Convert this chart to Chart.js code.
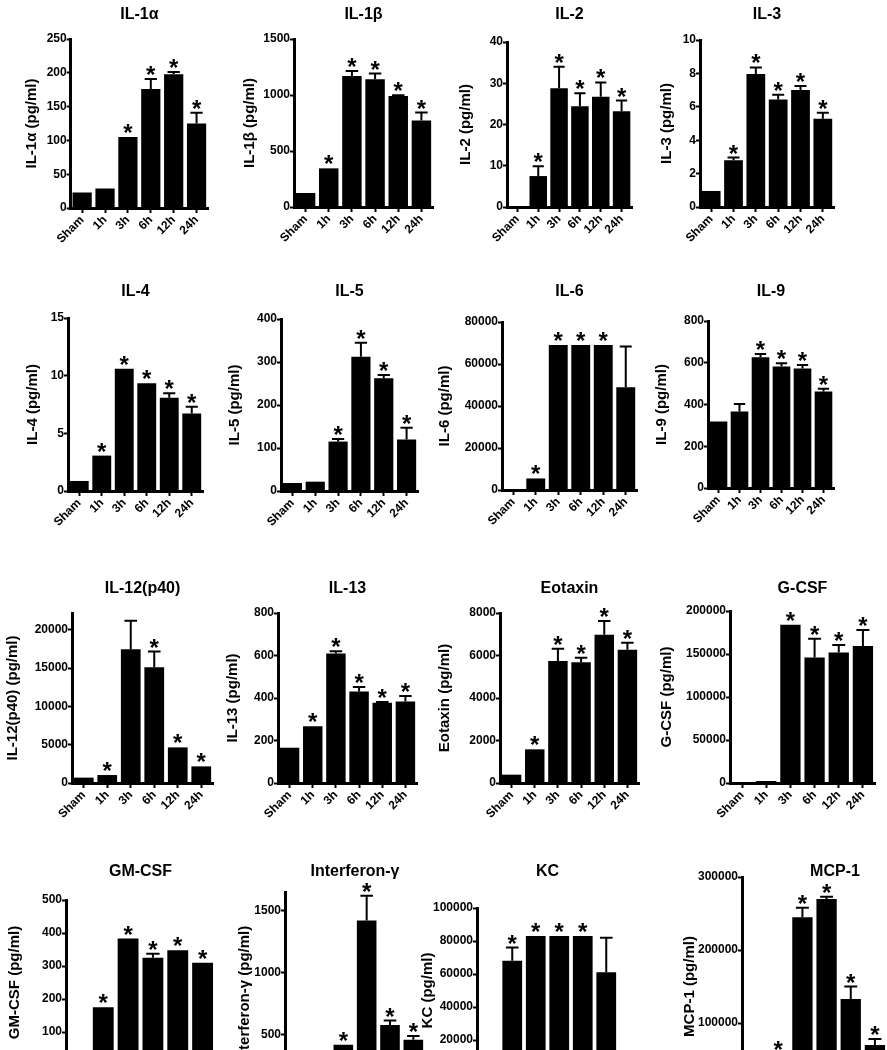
<!DOCTYPE html>
<html><head><meta charset="utf-8">
<script src="https://cdn.jsdelivr.net/npm/chart.js@4.4.0/dist/chart.umd.min.js"></script>
<style>
html,body{margin:0;padding:0;background:#fff;width:887px;height:1050px;overflow:hidden;position:relative}
canvas{position:absolute}
</style></head><body>
<script>
// ---------- DATA ----------
const categories = ['Sham','1h','3h','6h','12h','24h'];

const il1aValues = [23, 29, 105, 176, 198, 125];
const il1aSem    = [0, 0, 0, 15, 3, 16];
const il1aStars  = [0, 0, 1, 1, 1, 1];
const il1aTicks  = [0, 50, 100, 150, 200, 250];

const il1bValues = [125, 345, 1170, 1140, 992, 772];
const il1bSem    = [0, 0, 45, 51, 6, 71];
const il1bStars  = [0, 1, 1, 1, 1, 1];
const il1bTicks  = [0, 500, 1000, 1500];

const il2Values = [0, 7.5, 28.8, 24.4, 26.7, 23.2];
const il2Sem    = [0, 2.4, 5.2, 3.2, 3.5, 2.6];
const il2Stars  = [0, 1, 1, 1, 1, 1];
const il2Ticks  = [0, 10, 20, 30, 40];

const il3Values = [0.96, 2.8, 7.96, 6.44, 7.0, 5.28];
const il3Sem    = [0, 0.16, 0.4, 0.28, 0.24, 0.36];
const il3Stars  = [0, 1, 1, 1, 1, 1];
const il3Ticks  = [0, 2, 4, 6, 8, 10];

const il4Values = [0.87, 3.07, 10.59, 9.34, 8.09, 6.73];
const il4Sem    = [0, 0, 0, 0, 0.38, 0.58];
const il4Stars  = [0, 1, 1, 1, 1, 1];
const il4Ticks  = [0, 5, 10, 15];

const il5Values = [18.6, 21.7, 115, 312, 262, 120];
const il5Sem    = [0, 0, 6, 33, 8, 27];
const il5Stars  = [0, 0, 1, 1, 1, 1];
const il5Ticks  = [0, 100, 200, 300, 400];

const il6Values = [0, 5500, 69000, 69000, 69000, 48900];
const il6Sem    = [0, 0, 0, 0, 0, 19400];
const il6Stars  = [0, 1, 1, 1, 1, 0];
const il6Ticks  = [0, 20000, 40000, 60000, 80000];

const il9Values = [319, 367, 626, 582, 573, 462];
const il9Sem    = [0, 35, 16, 16, 16, 13];
const il9Stars  = [0, 0, 1, 1, 1, 1];
const il9Ticks  = [0, 200, 400, 600, 800];

const il12Values = [700, 1040, 17480, 15130, 4650, 2170];
const il12Sem    = [0, 0, 3720, 2040, 0, 0];
const il12Stars  = [0, 1, 0, 1, 1, 1];
const il12Ticks  = [0, 5000, 10000, 15000, 20000];

const il13Values = [166, 267, 609, 431, 378, 383];
const il13Sem    = [0, 0, 11, 21, 3, 27];
const il13Stars  = [0, 1, 1, 1, 1, 1];
const il13Ticks  = [0, 200, 400, 600, 800];

const eotaxinValues = [392, 1584, 5741, 5678, 6980, 6275];
const eotaxinSem    = [0, 0, 581, 220, 644, 329];
const eotaxinStars  = [0, 1, 1, 1, 1, 1];
const eotaxinTicks  = [0, 2000, 4000, 6000, 8000];

const gcsfValues = [500, 2300, 184000, 146000, 151800, 159200];
const gcsfSem    = [0, 0, 0, 21700, 8600, 18700];
const gcsfStars  = [0, 0, 1, 1, 1, 1];
const gcsfTicks  = [0, 50000, 100000, 150000, 200000];

const gmcsfValues = [40, 175, 383, 325, 348, 310];
const gmcsfSem    = [0, 0, 0, 12, 0, 0];
const gmcsfStars  = [0, 1, 1, 1, 1, 1];
const gmcsfTicks  = [0, 100, 200, 300, 400, 500];

const ifngValues = [150, 200, 420, 1420, 580, 460];
const ifngSem    = [0, 0, 0, 200, 35, 30];
const ifngStars  = [0, 0, 1, 1, 1, 1];
const ifngTicks  = [0, 500, 1000, 1500];

const kcValues = [5000, 68000, 83000, 83000, 83000, 61000];
const kcSem    = [0, 8000, 0, 0, 0, 21000];
const kcStars  = [0, 1, 1, 1, 1, 0];
const kcTicks  = [0, 20000, 40000, 60000, 80000, 100000];

const mcp1Values = [2000, 58000, 245000, 270000, 133000, 70000];
const mcp1Sem    = [0, 0, 13000, 3000, 17000, 8000];
const mcp1Stars  = [0, 1, 1, 1, 1, 1];
const mcp1Ticks  = [0, 100000, 200000, 300000];

// ---------- PANELS (data refs + layout) ----------
const panels = [
  {title:'IL-1\u03b1', yTitle:'IL-1\u03b1 (pg/ml)', v:il1aValues, e:il1aSem, s:il1aStars, t:il1aTicks, max:250,
   ax:70.7, top:39, zero:208, right:208, titleY:15, yTitleX:32},
  {title:'IL-1\u03b2', yTitle:'IL-1\u03b2 (pg/ml)', v:il1bValues, e:il1bSem, s:il1bStars, t:il1bTicks, max:1500,
   ax:294, top:39, zero:207, right:433, titleY:15, yTitleX:250},
  {title:'IL-2', yTitle:'IL-2 (pg/ml)', v:il2Values, e:il2Sem, s:il2Stars, t:il2Ticks, max:40,
   ax:507, top:42, zero:207, right:632, titleY:15, yTitleX:466},
  {title:'IL-3', yTitle:'IL-3 (pg/ml)', v:il3Values, e:il3Sem, s:il3Stars, t:il3Ticks, max:10,
   ax:700, top:40, zero:207, right:834, titleY:15, yTitleX:667},
  {title:'IL-4', yTitle:'IL-4 (pg/ml)', v:il4Values, e:il4Sem, s:il4Stars, t:il4Ticks, max:15,
   ax:68, top:318, zero:491, right:203, titleY:292, yTitleX:33},
  {title:'IL-5', yTitle:'IL-5 (pg/ml)', v:il5Values, e:il5Sem, s:il5Stars, t:il5Ticks, max:400,
   ax:281, top:319, zero:491, right:418, titleY:292, yTitleX:235},
  {title:'IL-6', yTitle:'IL-6 (pg/ml)', v:il6Values, e:il6Sem, s:il6Stars, t:il6Ticks, max:80000,
   ax:502, top:322, zero:490, right:637, titleY:292, yTitleX:445},
  {title:'IL-9', yTitle:'IL-9 (pg/ml)', v:il9Values, e:il9Sem, s:il9Stars, t:il9Ticks, max:800,
   ax:708, top:321, zero:488, right:834, titleY:292, yTitleX:662},
  {title:'IL-12(p40)', yTitle:'IL-12(p40) (pg/ml)', v:il12Values, e:il12Sem, s:il12Stars, t:il12Ticks, max:22200,
   ax:72, top:613, zero:783, right:213, titleY:589, yTitleX:13},
  {title:'IL-13', yTitle:'IL-13 (pg/ml)', v:il13Values, e:il13Sem, s:il13Stars, t:il13Ticks, max:800,
   ax:278, top:613, zero:783, right:417, titleY:589, yTitleX:233},
  {title:'Eotaxin', yTitle:'Eotaxin (pg/ml)', v:eotaxinValues, e:eotaxinSem, s:eotaxinStars, t:eotaxinTicks, max:8000,
   ax:500, top:613, zero:783, right:639, titleY:589, yTitleX:445},
  {title:'G-CSF', yTitle:'G-CSF (pg/ml)', v:gcsfValues, e:gcsfSem, s:gcsfStars, t:gcsfTicks, max:200000,
   ax:730, top:611, zero:783, right:875, titleY:589, yTitleX:667},
  {title:'GM-CSF', yTitle:'GM-CSF (pg/ml)', v:gmcsfValues, e:gmcsfSem, s:gmcsfStars, t:gmcsfTicks, max:500,
   ax:66, top:900, zero:1065, right:215, titleY:872, yTitleX:15},
  {title:'Interferon-\u03b3', yTitle:'Interferon-\u03b3 (pg/ml)', v:ifngValues, e:ifngSem, s:ifngStars, t:ifngTicks, max:1650,
   ax:285, top:892, zero:1097, right:425, titleY:872, yTitleX:245},
  {title:'KC', yTitle:'KC (pg/ml)', v:kcValues, e:kcSem, s:kcStars, t:kcTicks, max:100000,
   ax:477, top:908, zero:1073, right:618, titleY:872, yTitleX:428},
  {title:'MCP-1', yTitle:'MCP-1 (pg/ml)', v:mcp1Values, e:mcp1Sem, s:mcp1Stars, t:mcp1Ticks, max:300000,
   ax:742, top:877, zero:1096, right:887, titleY:872, yTitleX:690, titleX:835}
];

const FONT = "'Liberation Sans', Arial, sans-serif";
const TITLE_SIZE = 16;
const YT_SIZE = 15, YT_PAD_TOP = 3;
const TICK_SIZE = 12;
const XAXIS_H = 44, PAD_R = 6;

const errStarPlugin = {
  id: 'errStar',
  afterDatasetsDraw(chart, args, opts) {
    const ctx = chart.ctx;
    const meta = chart.getDatasetMeta(0);
    const y = chart.scales.y;
    const p = opts.panel;
    ctx.save();
    ctx.strokeStyle = '#000';
    ctx.fillStyle = '#000';
    ctx.lineWidth = 2;
    meta.data.forEach((bar, i) => {
      const v = p.v[i], e = p.e[i];
      const topPix = y.getPixelForValue(v);
      let highest = topPix;
      if (e > 0) {
        const ePix = y.getPixelForValue(v + e);
        const cap = bar.width * 0.32;
        ctx.beginPath();
        ctx.moveTo(bar.x, topPix);
        ctx.lineTo(bar.x, ePix);
        ctx.moveTo(bar.x - cap, ePix);
        ctx.lineTo(bar.x + cap, ePix);
        ctx.stroke();
        highest = ePix;
      }
      if (p.s[i]) {
        ctx.font = 'bold 24px ' + FONT;
        ctx.textAlign = 'center';
        ctx.textBaseline = 'alphabetic';
        ctx.fillText('*', bar.x, highest + 4);
      }
    });
    // panel title
    const ca = chart.chartArea;
    const cx = (p.titleX !== undefined) ? p.titleX - opts.offsetX : (ca.left + ca.right) / 2;
    ctx.font = 'bold ' + TITLE_SIZE + 'px ' + FONT;
    ctx.textAlign = 'center';
    ctx.textBaseline = 'middle';
    ctx.fillText(p.title, cx, p.titleY - opts.offsetY);
    ctx.restore();
  }
};

panels.forEach(p => {
  const ytLH = YT_SIZE * 1.2;
  const canvasLeft = p.yTitleX - (YT_PAD_TOP + ytLH / 2);
  const canvasTop = p.titleY - 12;
  const yAxisW = p.ax - canvasLeft;
  const w = Math.round(p.right - canvasLeft + PAD_R);
  const h = Math.round(p.zero - canvasTop + XAXIS_H);
  const c = document.createElement('canvas');
  c.width = w; c.height = h;
  c.style.left = canvasLeft + 'px';
  c.style.top = canvasTop + 'px';
  c.style.width = w + 'px';
  c.style.height = h + 'px';
  document.body.appendChild(c);

  new Chart(c, {
    type: 'bar',
    data: {
      labels: categories,
      datasets: [{
        data: p.v,
        backgroundColor: '#000',
        borderWidth: 0,
        barPercentage: 0.84,
        categoryPercentage: 1.0
      }]
    },
    options: {
      responsive: false,
      animation: false,
      devicePixelRatio: 1,
      layout: { padding: { left: 0, right: PAD_R, top: p.top - canvasTop, bottom: 0 } },
      plugins: {
        legend: { display: false },
        tooltip: { enabled: false },
        title: { display: false },
        errStar: { panel: p, offsetX: canvasLeft, offsetY: canvasTop }
      },
      scales: {
        x: {
          offset: true,
          grid: { display: true, drawOnChartArea: false, drawTicks: true, tickLength: 5, tickWidth: 2, tickColor: '#000', offset: false },
          border: { display: true, color: '#000', width: 3 },
          ticks: {
            color: '#000', autoSkip: false, maxRotation: 45, minRotation: 45, padding: 0,
            font: { family: FONT, size: TICK_SIZE, weight: 'bold' }
          },
          afterFit(scale) { scale.height = XAXIS_H; }
        },
        y: {
          min: 0, max: p.max,
          grid: { display: true, drawOnChartArea: false, drawTicks: true, tickLength: 4, tickWidth: 2, tickColor: '#000' },
          border: { display: true, color: '#000', width: 3 },
          ticks: {
            color: '#000', padding: 0,
            font: { family: FONT, size: TICK_SIZE, weight: 'bold' },
            callback: (val) => String(val)
          },
          afterBuildTicks(scale) { scale.ticks = p.t.map(v => ({ value: v })); },
          title: {
            display: true, text: p.yTitle, color: '#000',
            font: { family: FONT, size: YT_SIZE, weight: 'bold', lineHeight: 1.2 },
            padding: { top: YT_PAD_TOP, bottom: 0 }
          },
          afterFit(scale) { scale.width = yAxisW; }
        }
      }
    },
    plugins: [errStarPlugin]
  });
});
</script>
</body></html>
